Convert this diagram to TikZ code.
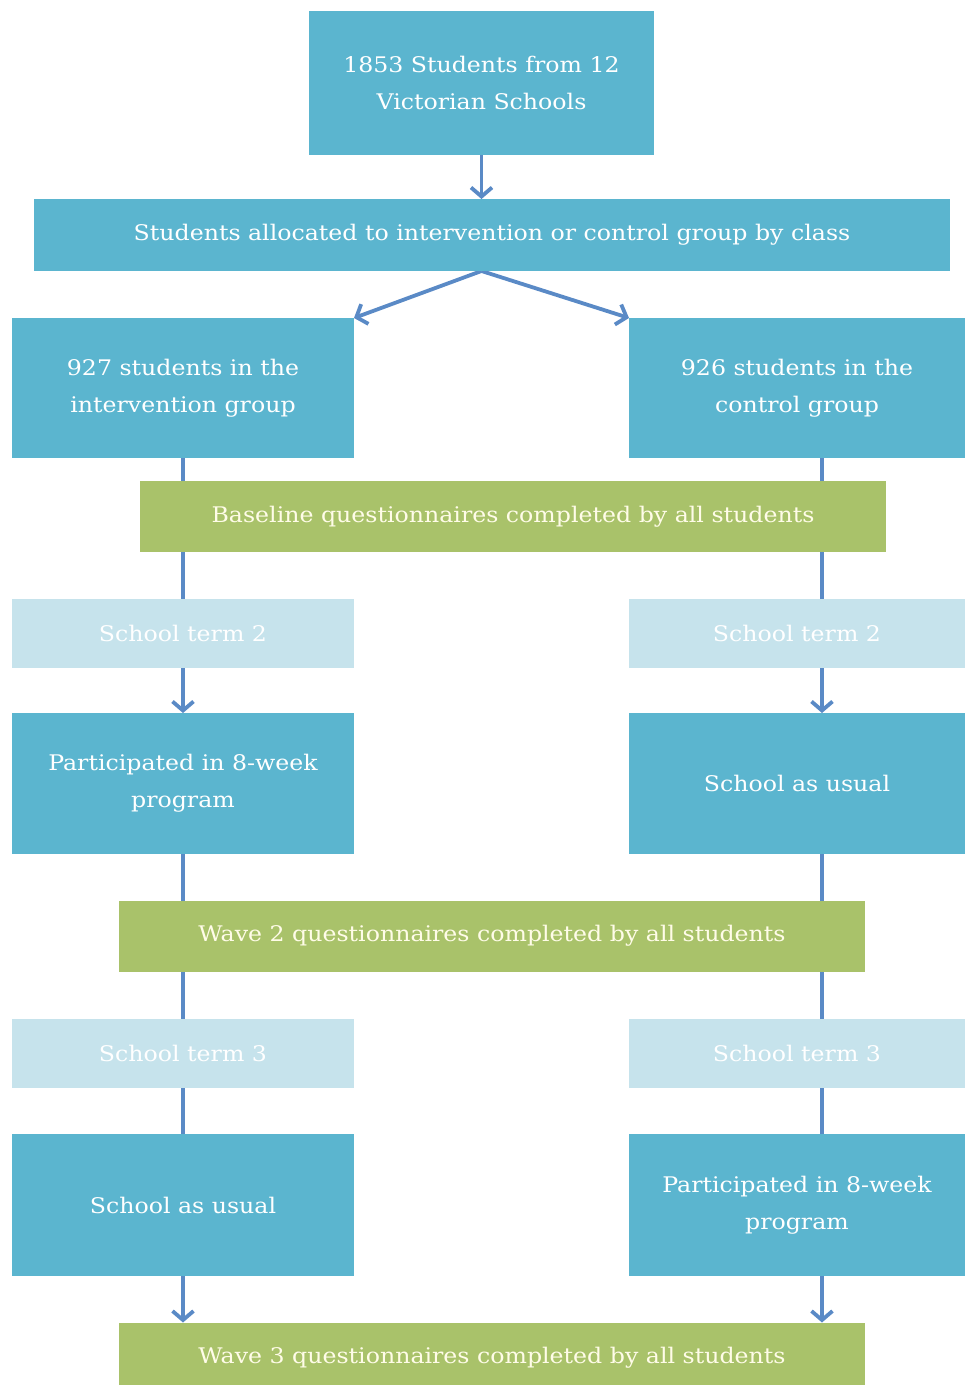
\documentclass[tikz,border=0pt]{standalone}
\usepackage{fontspec}
\setmainfont{DejaVu Serif}[FakeStretch=1.1]
\usetikzlibrary{arrows.meta,backgrounds}
\definecolor{boxblue}{HTML}{5BB5CF}
\definecolor{boxgreen}{HTML}{A9C26A}
\definecolor{boxlight}{HTML}{C6E3EC}
\definecolor{linkblue}{HTML}{5A8AC6}
\definecolor{cream}{HTML}{FFFCE8}
\tikzset{
  base/.style={inner sep=0pt, outer sep=0pt, align=center, font=\fontsize{21.5}{37}\selectfont, text=white},
  bluebox/.style={base, fill=boxblue},
  greenbox/.style={base, fill=boxgreen, text=cream, minimum height=71pt, minimum width=746pt},
  termbox/.style={base, fill=boxlight, minimum height=69pt},
  link/.style={draw=linkblue, line width=3.8pt},
  arr/.style={link, -{Straight Barb[length=9pt,width=21pt]}},
}
\begin{document}
\begin{tikzpicture}[x=1pt,y=-1pt]
\clip (0,0) rectangle (965,1385);
\node[bluebox, minimum width=345pt, minimum height=144pt] (top) at (481.5,83) {1853 Students from 12\\Victorian Schools};
\node[bluebox, minimum width=916pt, minimum height=72pt] (alloc) at (492,235) {Students allocated to intervention or control group by class};
\node[bluebox, minimum width=342pt, minimum height=140pt] (i927) at (183,388) {927 students in the\\intervention group};
\node[bluebox, minimum width=336pt, minimum height=140pt] (c926) at (797,388) {926 students in the\\control group};
\node[greenbox] (base) at (513,516.5) {Baseline questionnaires completed by all students};
\node[termbox, minimum width=342pt] (t2L) at (183,633.5) {School term 2};
\node[termbox, minimum width=336pt] (t2R) at (797,633.5) {School term 2};
\node[bluebox, minimum width=342pt, minimum height=141pt] (pL) at (183,783.5) {Participated in 8-week\\program};
\node[bluebox, minimum width=336pt, minimum height=141pt] (uR) at (797,783.5) {School as usual};
\node[greenbox] (w2) at (492,936) {Wave 2 questionnaires completed by all students};
\node[termbox, minimum width=342pt] (t3L) at (183,1053) {School term 3};
\node[termbox, minimum width=336pt] (t3R) at (797,1053) {School term 3};
\node[bluebox, minimum width=342pt, minimum height=142pt] (uL) at (183,1205) {School as usual};
\node[bluebox, minimum width=336pt, minimum height=142pt] (pR) at (797,1205) {Participated in 8-week\\program};
\node[greenbox] (w3) at (492,1358) {Wave 3 questionnaires completed by all students};
\coordinate (rx) at (822,0);
\begin{scope}[on background layer]
\draw[arr] (top.south) -- (top.south |- alloc.north);
\coordinate (split) at (top.south |- alloc.south);
\draw[arr] (split) -- (i927.north east);
\draw[arr] (split) -- (c926.north west);
\draw[link] (i927.south) -- (t2L.north);
\draw[arr] (t2L.south) -- (pL.north);
\draw[link] (pL.south) -- (t3L.north);
\draw[link] (t3L.south) -- (uL.north);
\draw[arr] (uL.south) -- (uL.south |- w3.north);
\draw[link] (c926.south -| rx) -- (t2R.north -| rx);
\draw[arr] (t2R.south -| rx) -- (uR.north -| rx);
\draw[link] (uR.south -| rx) -- (t3R.north -| rx);
\draw[link] (t3R.south -| rx) -- (pR.north -| rx);
\draw[arr] (pR.south -| rx) -- (w3.north -| rx);
\end{scope}
\end{tikzpicture}
\end{document}
